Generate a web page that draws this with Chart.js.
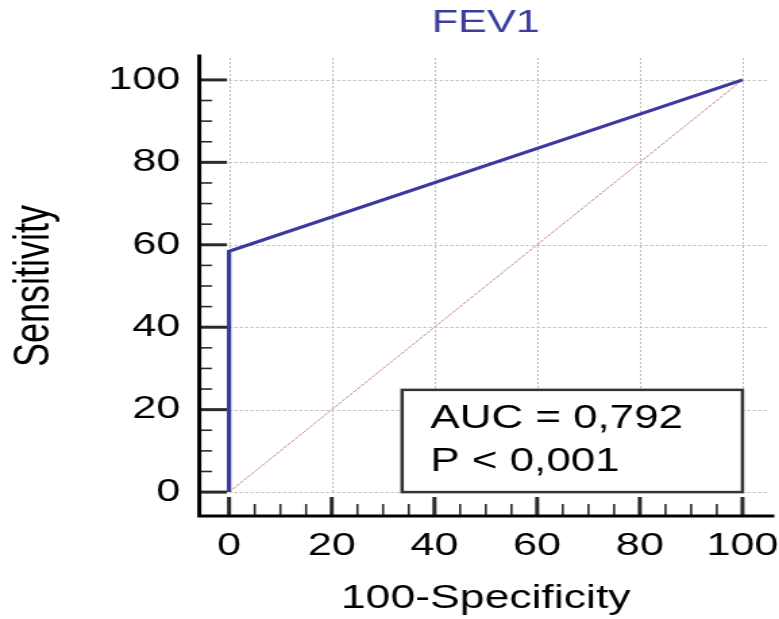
<!DOCTYPE html>
<html>
<head>
<meta charset="utf-8">
<title>FEV1</title>
<script src="https://cdn.jsdelivr.net/npm/chart.js@4"></script>
<style>
  html, body { margin: 0; padding: 0; background: #fff; overflow: hidden; }
  #wrap { width: 779px; height: 619px; overflow: hidden; }
  /* the canvas is drawn narrow and stretched sideways */
  #roc { display: block; transform: scaleX(1.3501); transform-origin: 0 0; }
</style>
</head>
<body>
<div id="wrap"><canvas id="roc" width="577" height="619"></canvas></div>
<script>
// ROC curve points (100-Specificity, Sensitivity)
var rocX = [0, 0, 100];
var rocY = [0, 58.4, 100];
// chance line
var refX = [0, 100];
var refY = [0, 100];
// axis labels
var majorTicks = [0, 20, 40, 60, 80, 100];
var minorTicks = [5, 10, 15, 25, 30, 35, 45, 50, 55, 65, 70, 75, 85, 90, 95];
var statLines = ['AUC = 0,792', 'P < 0,001'];

var FONT = "'Liberation Sans', Arial, sans-serif";

function toPoints(xs, ys) {
    return xs.map(function(v, i) { return { x: v, y: ys[i] }; });
}

// dotted grid, axis lines with inward ticks, and the stats box
var rocFrame = {
    id: 'rocFrame',
    beforeDatasetsDraw: function(chart) {
        var ctx = chart.ctx, xs = chart.scales.x, ys = chart.scales.y, area = chart.chartArea;
        ctx.save();
        ctx.strokeStyle = '#b8b8b8';
        ctx.lineWidth = 1;
        ctx.setLineDash([2, 2]);
        majorTicks.forEach(function(v) {
            var px = Math.round(xs.getPixelForValue(v)) + 0.5;
            ctx.beginPath();
            ctx.moveTo(px, ys.getPixelForValue(0));
            ctx.lineTo(px, area.top);
            ctx.stroke();
            var py = Math.round(ys.getPixelForValue(v)) + 0.5;
            ctx.beginPath();
            ctx.moveTo(xs.getPixelForValue(0), py);
            ctx.lineTo(area.right - 4, py);
            ctx.stroke();
        });
        ctx.restore();
    },
    afterDatasetsDraw: function(chart) {
        var ctx = chart.ctx, xs = chart.scales.x, ys = chart.scales.y, area = chart.chartArea;
        var x0 = xs.getPixelForValue(0), y0 = ys.getPixelForValue(0);
        ctx.save();

        // stats box, anchored to the lower right of the data region
        var bx = xs.getPixelForValue(33.7), bx2 = xs.getPixelForValue(100);
        var by = ys.getPixelForValue(24.8), by2 = y0;
        ctx.fillStyle = '#fff';
        ctx.fillRect(bx, by, bx2 - bx, by2 - by);
        ctx.strokeStyle = '#333';
        ctx.lineWidth = 2.5;
        ctx.strokeRect(bx, by, bx2 - bx, by2 - by);
        ctx.fillStyle = '#000';
        ctx.font = '32.5px ' + FONT;
        ctx.textBaseline = 'alphabetic';
        ctx.textAlign = 'left';
        ctx.fillText(statLines[0], bx + 21, by + 38.5);
        ctx.fillText(statLines[1], bx + 21, by + 81.5);

        // ticks pointing into the plot
        ctx.strokeStyle = '#2a2a2a';
        majorTicks.forEach(function(v) {
            var py = ys.getPixelForValue(v);
            ctx.lineWidth = 3;
            ctx.beginPath(); ctx.moveTo(area.left, py); ctx.lineTo(x0 - 1.5, py); ctx.stroke();
            var px = xs.getPixelForValue(v);
            ctx.beginPath(); ctx.moveTo(px, area.bottom); ctx.lineTo(px, area.bottom - 19); ctx.stroke();
        });
        minorTicks.forEach(function(v) {
            var py = ys.getPixelForValue(v);
            ctx.lineWidth = 1.6;
            ctx.beginPath(); ctx.moveTo(area.left, py); ctx.lineTo(area.left + 9.5, py); ctx.stroke();
            var px = xs.getPixelForValue(v);
            ctx.beginPath(); ctx.moveTo(px, area.bottom); ctx.lineTo(px, area.bottom - 12); ctx.stroke();
        });

        // axis lines
        ctx.strokeStyle = '#000';
        ctx.lineWidth = 3;
        ctx.lineCap = 'square';
        ctx.beginPath();
        ctx.moveTo(area.left, area.top);
        ctx.lineTo(area.left, area.bottom);
        ctx.lineTo(area.right, area.bottom);
        ctx.stroke();
        ctx.restore();
    }
};

var ctx = document.getElementById('roc').getContext('2d');
var rocChart = new Chart(ctx, {
    type: 'scatter',
    data: {
        datasets: [{
            label: 'FEV1',
            data: toPoints(rocX, rocY),
            showLine: true,
            borderColor: '#3a3a9e',
            borderWidth: 3.2,
            pointRadius: 0,
            order: 1
        }, {
            label: 'Reference',
            data: toPoints(refX, refY),
            showLine: true,
            borderColor: '#c98080',
            borderWidth: 1,
            borderDash: [3, 1],
            pointRadius: 0,
            order: 2
        }]
    },
    options: {
        responsive: false,
        devicePixelRatio: 1,
        animation: false,
        layout: { padding: { right: 5 } },
        plugins: {
            legend: { display: false },
            tooltip: { enabled: false },
            title: {
                display: true,
                fullSize: false,
                text: 'FEV1',
                color: '#3b3d9c',
                font: { family: FONT, size: 32, weight: 'normal' },
                padding: { top: 4, bottom: 13.6 }
            }
        },
        scales: {
            x: {
                type: 'linear',
                min: -5.8,
                max: 105.8,
                grid: { display: false, drawTicks: false },
                border: { display: false },
                afterBuildTicks: function(s) {
                    s.ticks = majorTicks.map(function(v) { return { value: v }; });
                },
                afterFit: function(s) {
                    s.height = 103;
                    s.paddingLeft = 0;
                    s.paddingRight = 0;
                },
                ticks: {
                    padding: 11,
                    color: '#000',
                    autoSkip: false,
                    maxRotation: 0,
                    font: { family: FONT, size: 32 }
                },
                title: {
                    display: true,
                    text: '100-Specificity',
                    color: '#000',
                    font: { family: FONT, size: 33 },
                    padding: { top: 0, bottom: 0 }
                }
            },
            y: {
                type: 'linear',
                min: -5.8,
                max: 105.8,
                grid: { display: false, drawTicks: false },
                border: { display: false },
                afterBuildTicks: function(s) {
                    s.ticks = majorTicks.map(function(v) { return { value: v }; });
                },
                afterFit: function(s) {
                    s.width = 147.6;
                    s.paddingTop = 0;
                    s.paddingBottom = 0;
                },
                ticks: {
                    padding: 14,
                    color: '#000',
                    autoSkip: false,
                    font: { family: FONT, size: 32 }
                },
                title: {
                    display: true,
                    text: 'Sensitivity',
                    color: '#000',
                    font: { family: FONT, size: 36 },
                    padding: { top: 4, bottom: 0 }
                }
            }
        }
    },
    plugins: [rocFrame]
});
</script>
</body>
</html>
